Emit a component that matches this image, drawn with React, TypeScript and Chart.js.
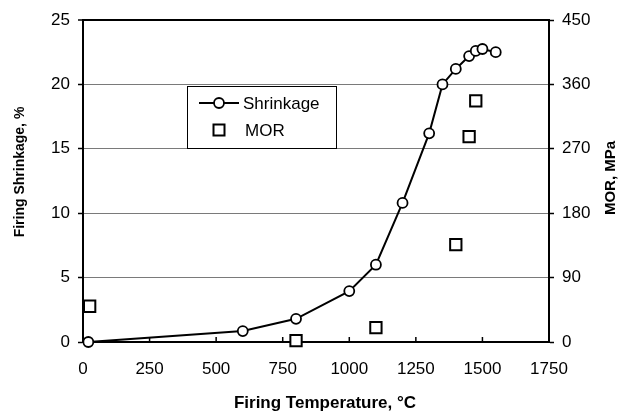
import React, { useEffect, useRef } from 'react';
import { Chart, registerables } from 'chart.js';

Chart.register(...registerables);

const temperatures = [20, 600, 800, 1000, 1100, 1200, 1300, 1350, 1400, 1450, 1475, 1500, 1550];
const shrinkage = [0, 0.85, 1.8, 3.95, 6.0, 10.8, 16.2, 20.0, 21.2, 22.2, 22.6, 22.75, 22.5];
const morTemperatures = [25, 800, 1100, 1400, 1450, 1475];
const morValues = [50, 2, 20, 136, 287, 337];

const xRange = [0, 1750];
const xStep = 250;
const shrinkRange = [0, 25];
const shrinkStep = 5;
const morRange = [0, 450];
const morStep = 90;

const seriesNames = ['Shrinkage', 'MOR'];
const xTitle = 'Firing Temperature, \u00B0C';
const yTitle = 'Firing Shrinkage, %';
const y2Title = 'MOR, MPa';

const FONT = '"Liberation Sans", Arial, Helvetica, sans-serif';

const innerXTicks = {
  id: 'innerXTicks',
  beforeDatasetsDraw(chart: any) {
    const { ctx, scales } = chart;
    const x = scales.x;
    const bottom = chart.chartArea.bottom;
    ctx.save();
    ctx.strokeStyle = '#000';
    ctx.lineWidth = 1.5;
    x.ticks.forEach((t: any) => {
      const px = x.getPixelForValue(t.value);
      ctx.beginPath();
      ctx.moveTo(px, bottom);
      ctx.lineTo(px, bottom - 5);
      ctx.stroke();
    });
    ctx.restore();
  },
};

const axisTitles = {
  id: 'axisTitles',
  afterDraw(chart: any) {
    const { ctx, chartArea } = chart;
    const midY = (chartArea.top + chartArea.bottom) / 2;
    const midX = (chartArea.left + chartArea.right) / 2;
    ctx.save();
    ctx.fillStyle = '#000';
    ctx.textAlign = 'center';
    ctx.textBaseline = 'middle';
    // right title
    ctx.save();
    ctx.translate(chart.width - 9, midY - 3);
    ctx.rotate(-Math.PI / 2);
    ctx.font = `bold 15px ${FONT}`;
    ctx.fillText(y2Title, 0, 0);
    ctx.restore();
    // left title
    ctx.save();
    ctx.translate(20, midY - 9);
    ctx.rotate(-Math.PI / 2);
    ctx.font = `bold 14px ${FONT}`;
    ctx.fillText(yTitle, 0, 0);
    ctx.restore();
    // bottom title
    ctx.font = `bold 17px ${FONT}`;
    ctx.fillText(xTitle, midX + 9, chart.height - 10);
    ctx.restore();
  },
};

const boxLegend = {
  id: 'boxLegend',
  afterDraw(chart: any) {
    const { ctx, chartArea } = chart;
    const x0 = chartArea.left + 104;
    const y0 = chartArea.top + 66;
    const w = 149;
    const h = 62;
    ctx.save();
    ctx.fillStyle = '#fff';
    ctx.fillRect(x0, y0, w, h);
    ctx.strokeStyle = '#000';
    ctx.lineWidth = 1;
    ctx.strokeRect(x0 + 0.5, y0 + 0.5, w, h);
    const r1y = y0 + 17;
    ctx.lineWidth = 2;
    ctx.beginPath();
    ctx.moveTo(x0 + 12, r1y);
    ctx.lineTo(x0 + 52, r1y);
    ctx.stroke();
    ctx.beginPath();
    ctx.arc(x0 + 32, r1y, 5, 0, Math.PI * 2);
    ctx.fillStyle = '#fff';
    ctx.fill();
    ctx.lineWidth = 1.8;
    ctx.stroke();
    ctx.fillStyle = '#000';
    ctx.font = `17px ${FONT}`;
    ctx.textBaseline = 'middle';
    ctx.textAlign = 'left';
    ctx.fillText(seriesNames[0], x0 + 56, r1y + 1);
    const r2y = y0 + 44;
    ctx.fillStyle = '#fff';
    ctx.fillRect(x0 + 26.5, r2y - 5.5, 11, 11);
    ctx.lineWidth = 2;
    ctx.strokeRect(x0 + 26.5, r2y - 5.5, 11, 11);
    ctx.fillStyle = '#000';
    ctx.fillText(seriesNames[1], x0 + 58, r2y + 1);
    ctx.restore();
  },
};

export default function App() {
  const ref = useRef<HTMLCanvasElement | null>(null);

  useEffect(() => {
    if (!ref.current) return;
    const shrinkData = temperatures.map((t, i) => ({ x: t, y: shrinkage[i] }));
    const morData = morTemperatures.map((t, i) => ({ x: t, y: morValues[i] }));

    const chart = new Chart(ref.current, {
      type: 'scatter',
      data: {
        datasets: [
          {
            label: seriesNames[0],
            data: shrinkData,
            yAxisID: 'y',
            showLine: true,
            borderColor: '#000',
            borderWidth: 2,
            pointRadius: 5,
            pointBorderWidth: 1.8,
            pointBackgroundColor: '#fff',
            pointBorderColor: '#000',
            pointStyle: 'circle',
            clip: false as any,
          },
          {
            label: seriesNames[1],
            data: morData,
            yAxisID: 'y2',
            showLine: false,
            borderColor: '#000',
            pointRadius: 8,
            pointBorderWidth: 2,
            pointBackgroundColor: '#fff',
            pointBorderColor: '#000',
            pointStyle: 'rect',
            clip: false as any,
          },
        ],
      },
      options: {
        responsive: false,
        animation: false,
        devicePixelRatio: 1,
        layout: { padding: { top: 20, left: 0, right: 0, bottom: 0 } },
        plugins: {
          legend: { display: false },
          tooltip: { enabled: false },
        },
        scales: {
          x: {
            type: 'linear',
            min: xRange[0],
            max: xRange[1],
            ticks: {
              stepSize: xStep,
              color: '#000',
              font: { family: FONT, size: 17 },
              padding: 17,
              maxRotation: 0,
              callback: (v: any) => String(v),
            },
            grid: { display: true, drawOnChartArea: false, drawTicks: false },
            border: { display: true, color: '#000', width: 2 },
            title: { display: false },
            afterFit: (s: any) => {
              s.height = 71;
            },
          },
          y: {
            type: 'linear',
            position: 'left',
            min: shrinkRange[0],
            max: shrinkRange[1],
            ticks: {
              stepSize: shrinkStep,
              color: '#000',
              font: { family: FONT, size: 17 },
              padding: 8,
              callback: (v: any) => String(v),
            },
            grid: {
              color: (c: any) => (c.tick && c.tick.value === shrinkRange[1] ? '#000' : '#7a7a7a'),
              lineWidth: (c: any) => (c.tick && c.tick.value === shrinkRange[1] ? 2 : 1),
              tickColor: '#000',
              tickLength: 5,
              tickWidth: 1.5,
            },
            border: { display: true, color: '#000', width: 2 },
            title: { display: false },
            afterFit: (s: any) => {
              s.width = 83;
            },
          },
          y2: {
            type: 'linear',
            position: 'right',
            min: morRange[0],
            max: morRange[1],
            ticks: {
              stepSize: morStep,
              color: '#000',
              font: { family: FONT, size: 17 },
              padding: 8,
              callback: (v: any) => String(v),
            },
            grid: {
              drawOnChartArea: false,
              tickColor: '#000',
              tickLength: 5,
              tickWidth: 1.5,
            },
            border: { display: true, color: '#000', width: 2 },
            title: { display: false },
            afterFit: (s: any) => {
              s.width = 71;
            },
          },
        },
      },
      plugins: [innerXTicks, boxLegend, axisTitles],
    });
    return () => chart.destroy();
  }, []);

  return (
    <div style={{ position: 'absolute', left: 0, top: 0, width: 620, height: 413, background: '#fff' }}>
      <canvas ref={ref} width={620} height={413} style={{ width: 620, height: 413, display: 'block' }} />
    </div>
  );
}
